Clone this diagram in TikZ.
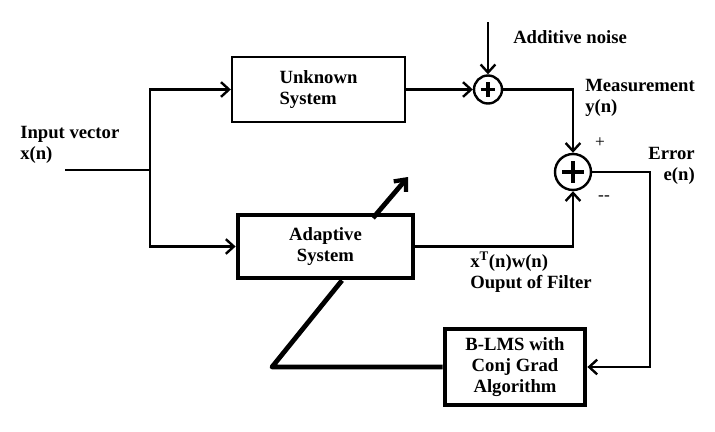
\documentclass[tikz,border=0pt]{standalone}
\usepackage{fontspec}
\setmainfont{Liberation Serif}
\usetikzlibrary{arrows.meta}
\begin{document}
\begin{tikzpicture}[x=0.75pt,y=-0.75pt,
        lbl/.style={font=\fontsize{14}{15.5}\selectfont\bfseries,inner sep=0pt},
        thinbox/.style={draw,line width=1.8pt,rectangle,lbl},
        thickbox/.style={draw,line width=3.6pt,rectangle,lbl},
        sumnode/.style={draw,circle,line width=1.8pt,inner sep=0pt},
        wire/.style={line width=1.8pt},
        arr/.style={wire,-{Straight Barb[length=6pt,width=11pt,line width=1.8pt]}}]
        \useasboundingbox (0,0) rectangle (715,432);
        %% Blocks
        \node[thinbox,minimum width=129.75pt,minimum height=48.75pt,align=left] (unk) at (318.5,89.5) {Unknown\\System};
        \node[thickbox,minimum width=131.25pt,minimum height=47.25pt,align=center] (adp) at (325.5,246.5) {Adaptive\\System};
        \node[thickbox,minimum width=105pt,minimum height=57pt,align=center] (blms) at (515,367) {B-LMS with\\Conj Grad\\Algorithm};
        %% Summing junctions
        \node[sumnode,minimum size=21pt] (sum1) at (488,89.5) {};
        \node[sumnode,minimum size=27pt] (sum2) at (573,172) {};
        \draw[line width=2.4pt] ([xshift=-5.5pt]sum1.center) -- ([xshift=5.5pt]sum1.center);
        \draw[line width=2.4pt] ([yshift=-5.5pt]sum1.center) -- ([yshift=5.5pt]sum1.center);
        \draw[line width=2.8pt] ([xshift=-8pt]sum2.center) -- ([xshift=8pt]sum2.center);
        \draw[line width=2.8pt] ([yshift=-8pt]sum2.center) -- ([yshift=8pt]sum2.center);
        %% Free ends and corners
        \coordinate (in) at (65,170);
        \coordinate (split) at (150,170);
        \coordinate (noise) at (488,22);
        \coordinate (ecorner) at (650,367);
        \coordinate (fb) at (272,367);
        \coordinate (tune0) at (373,218);
        \coordinate (tune1) at (408,177);
        %% Input
        \draw[wire] (in) -- (split);
        \draw[arr] (split) |- (unk.west);
        \draw[arr] (split) |- (adp.west);
        %% Plant and noise
        \draw[arr] (unk.east) -- (sum1.west);
        \draw[arr] (noise) -- (sum1.north);
        \draw[arr] (sum1.east) -| (sum2.north);
        %% Filter output
        \draw[arr] (adp.east) -| (sum2.south);
        %% Error feedback
        \draw[arr] (sum2.east) -| (ecorner) -- (blms.east);
        \draw[line width=3.6pt,line join=round] (blms.west) -- (fb) -- (adp.south -| 342,0);
        \draw[line width=3.6pt,-{Straight Barb[length=7pt,width=12pt,line width=3.2pt]}] (tune0) -- (tune1);
        %% Labels
        \node[lbl,anchor=north west,align=left] (inlbl) at (20,126) {Input vector\\x(n)};
        \node[lbl,anchor=west] (noiselbl) at (513,37) {Additive noise};
        \node[lbl,anchor=north west,align=left] (meas) at (585,79) {Measurement\\y(n)};
        \node[lbl,anchor=north east,align=right] (err) at (695,147) {Error\\e(n)};
        \node[lbl,anchor=north west,align=left] (outlbl) at (470,252) {x\textsuperscript{T}(n)w(n)\\Ouput of Filter};
        \node[font=\fontsize{13}{13}\selectfont,inner sep=0pt] (plus) at (600,143) {+};
        \node[font=\fontsize{13}{13}\selectfont,inner sep=0pt] (minus) at (604,198) {-{}-};
    \end{tikzpicture}
\end{document}
